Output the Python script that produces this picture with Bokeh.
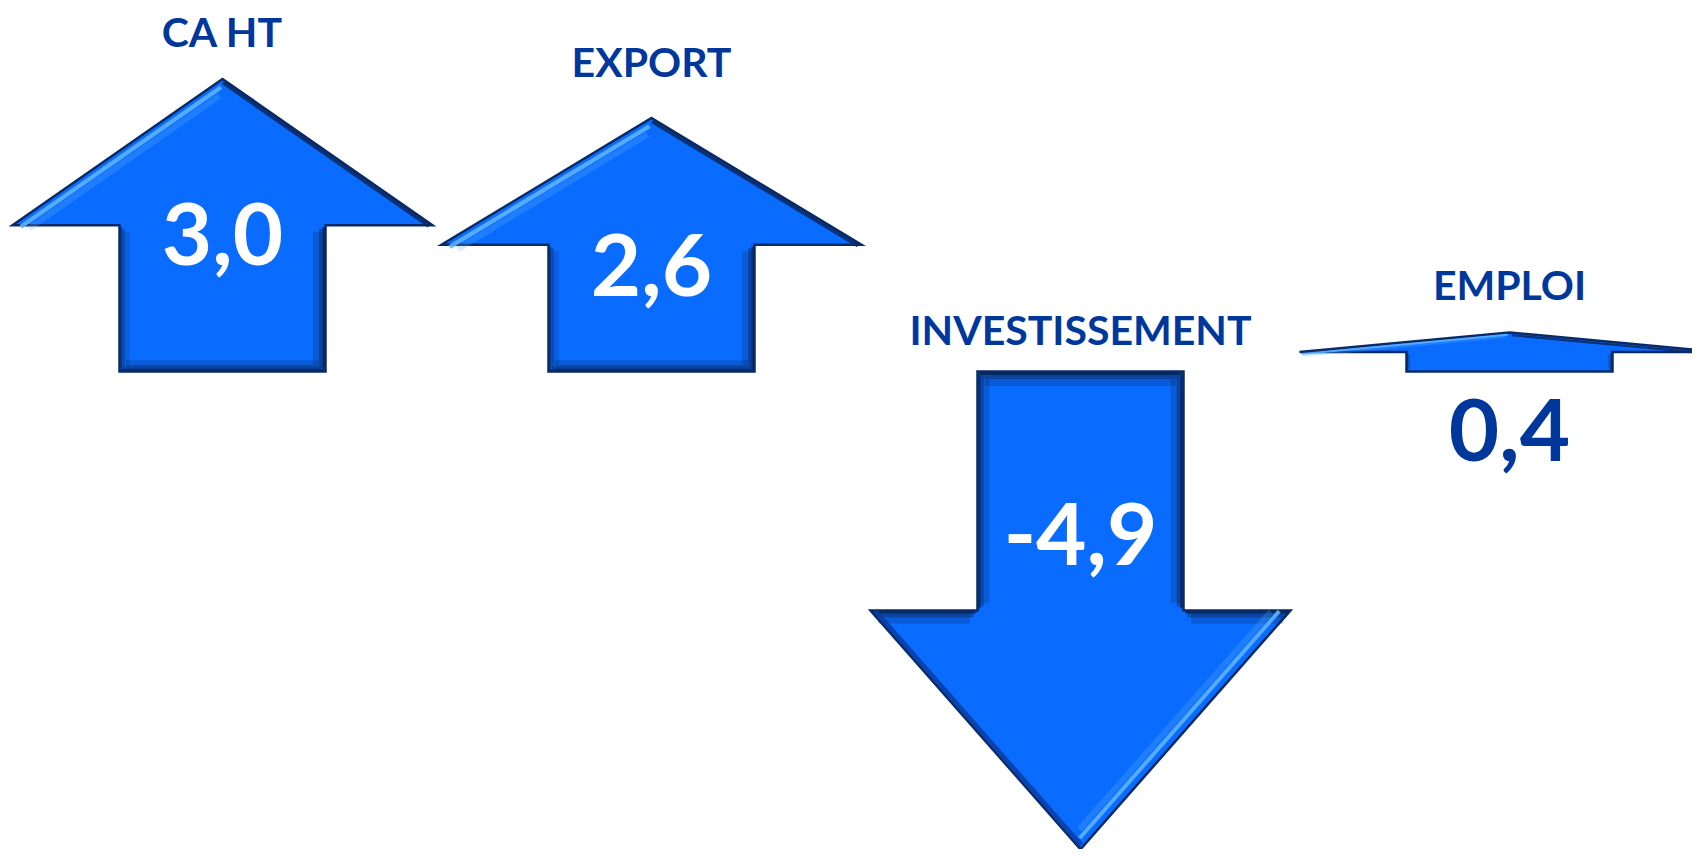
import numpy as np
from bokeh.plotting import figure
from bokeh.models import Range1d
from bokeh.core.properties import value
from bokeh.embed import file_html
from bokeh.resources import INLINE

# ---------------- data ----------------
categories = ["CA HT", "EXPORT", "INVESTISSEMENT", "EMPLOI"]
values = [3.0, 2.6, -4.9, 0.4]
value_labels = ["3,0", "2,6", "-4,9", "0,4"]

# ---------------- layout / style ----------------
K = 97.5             # pixels per unit of value
BASE = 371.0         # pixel row of the zero line
FIG_W, FIG_H = 1692, 849
X0, DX = 222, 429    # first arrow centre and spacing (px)
HEAD = 210           # half width of arrow head
SHAFT = 103          # half width of shaft
title_px_rows = [47, 77, 345, 300]      # pixel rows of title baselines
label_px_rows = [267, 298, 567, 463]    # pixel rows of value-label baselines
label_color = ["white", "white", "white", "#00379A"]
TITLE_PX = 41
VALUE_PX = 87
BASELINE_FIX = 0.38  # em shift to compensate text baseline placement

FILL = "#0A6CFF"
EDGE = "#0A2A66"
DARK = "#08275E"
LIGHT = "#5CB2FF"
TITLE = "#00379A"

p = figure(width=FIG_W, height=FIG_H, output_backend="svg", toolbar_location=None,
           x_range=Range1d(0, FIG_W), y_range=Range1d(-(FIG_H - BASE) / K, BASE / K),
           min_border=0, background_fill_color="white", border_fill_color="white")
p.axis.visible = False
p.grid.visible = False
p.outline_line_color = None


def inset(a, b, d, interior):
    a = np.array(a, float); b = np.array(b, float); c = np.array(interior, float)
    u = (b - a) / np.linalg.norm(b - a)
    n = np.array([-u[1], u[0]])
    if np.dot(n, c - a) < 0:
        n = -n
    a2 = a + n * d + u * d
    b2 = b + n * d - u * d
    return [a2[0], b2[0]], [a2[1] / K, b2[1] / K]


def seg(a, b, d, interior, color, width, alpha):
    xs, ys = inset(a, b, d, interior)
    p.line(xs, ys, line_color=color, line_width=width, line_alpha=alpha, line_cap="butt")


centers = [X0 + i * DX for i in range(len(values))]

for cx, v in zip(centers, values):
    vk = v * K
    T = (cx, vk)
    HR = (cx + HEAD, vk / 2)
    SR = (cx + SHAFT, vk / 2)
    BR = (cx + SHAFT, 0)
    BL = (cx - SHAFT, 0)
    SL = (cx - SHAFT, vk / 2)
    HL = (cx - HEAD, vk / 2)
    pts = [T, HR, SR, BR, BL, SL, HL]
    xs = [q[0] for q in pts]
    ys = [q[1] / K for q in pts]
    p.patch(xs, ys, fill_color=FILL, line_color=EDGE, line_width=2.5, line_join="miter")

    small = abs(vk) < 80
    s = 0.35 if small else 1.0
    shaft_in = (cx, vk / 4)
    head_in = (cx, vk * 0.62)
    if v > 0:
        for w, a in [(12, 0.25), (6, 0.45), (2.5, 0.85)]:
            seg(SR, BR, w / 2 * s + 0.5, shaft_in, DARK, w * s, a)
            seg(SL, BL, w / 2 * s + 0.5, shaft_in, DARK, w * s * 0.6, a * 0.8)
            if not small:
                seg(BL, BR, w / 2 + 0.5, shaft_in, DARK, w * 0.8, a)
        seg(HL, T, 6 * s, head_in, LIGHT, 3.5 * s + 0.8, 0.9)
        seg(HL, T, 12 * s, head_in, LIGHT, 6 * s, 0.25)
        seg(T, HR, 2.5, head_in, EDGE, 3 * s + 1, 0.9)
    else:
        for w, a in [(14, 0.25), (7, 0.45), (3, 0.9)]:
            seg(BL, BR, w / 2 + 0.5, shaft_in, DARK, w, a)
            seg(BR, SR, w / 2 + 0.5, shaft_in, DARK, w * 0.8, a)
            seg(BL, SL, w / 2 + 0.5, shaft_in, DARK, w * 0.6, a)
            seg(HL, SL, w / 2 + 0.5, head_in, DARK, w * 0.8, a)
            seg(SR, HR, w / 2 + 0.5, head_in, DARK, w * 0.8, a)
        seg(HL, T, 3, head_in, "#0A3A9A", 5, 0.8)
        seg(T, HR, 8, head_in, LIGHT, 4, 0.9)
        seg(T, HR, 14, head_in, LIGHT, 6, 0.25)

# titles
title_y = [(BASE - r) / K + BASELINE_FIX * TITLE_PX / K for r in title_px_rows]
p.text(x=centers, y=title_y, text=categories, text_font=value("Lato"),
       text_font_style="bold", text_font_size=f"{TITLE_PX}px", text_color=TITLE,
       text_align="center", text_baseline="alphabetic")

# value labels
label_y = [(BASE - r) / K + BASELINE_FIX * VALUE_PX / K for r in label_px_rows]
p.text(x=centers, y=label_y, text=value_labels, text_font=value("Lato"),
       text_font_style="bold", text_font_size=f"{VALUE_PX}px", text_color=label_color,
       text_align="center", text_baseline="alphabetic")

open("out.html", "w").write(file_html(p, INLINE))
